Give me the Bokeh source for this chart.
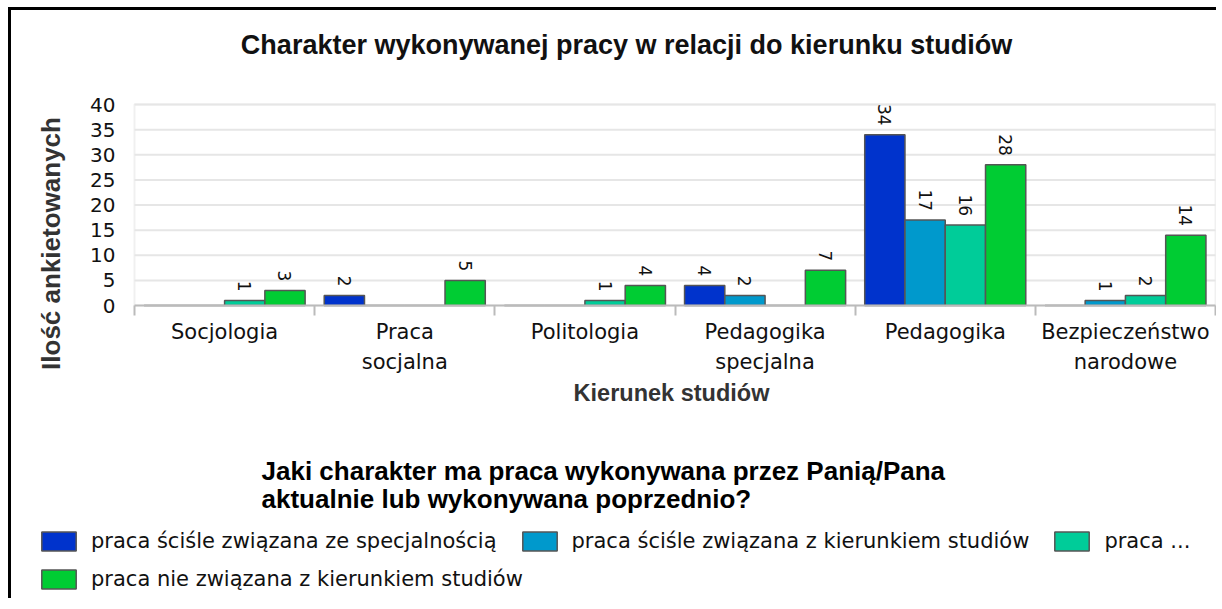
import numpy as np
from bokeh.plotting import figure
from bokeh.models import (ColumnDataSource, FixedTicker, Label, Legend, LegendItem,
                          Range1d, BoxAnnotation)
from bokeh.transform import dodge
from bokeh.core.properties import value
from bokeh.embed import file_html
from bokeh.resources import INLINE

# ---------------- data ----------------
chart_title = "Charakter wykonywanej pracy w relacji do kierunku studiów"
question_lines = ["Jaki charakter ma praca wykonywana przez Panią/Pana",
                  "aktualnie lub wykonywana poprzednio?"]
x_title = "Kierunek studiów"
y_title = "Ilość ankietowanych"
categories = ["Socjologia", "Praca\nsocjalna", "Politologia",
              "Pedagogika\nspecjalna", "Pedagogika", "Bezpieczeństwo\nnarodowe"]
series_names = ["praca ściśle związana ze specjalnością",
                "praca ściśle związana z kierunkiem studiów",
                "praca ...",
                "praca nie związana z kierunkiem studiów"]
spec_values = [0, 2, 0, 4, 34, 0]
kier_values = [0, 0, 0, 2, 17, 1]
other_values = [1, 0, 1, 0, 16, 2]
none_values = [3, 5, 4, 7, 28, 14]
y_ticks = [0, 5, 10, 15, 20, 25, 30, 35, 40]
colors = ["#0033CC", "#0099CC", "#00CC99", "#00CC33"]

series_values = [spec_values, kier_values, other_values, none_values]

# ---------------- layout (pixels) ----------------
W, H = 1208, 591                  # canvas size
PLOT_L, PLOT_R = 123, 1204        # plot area inside the canvas (x)
PLOT_T, PLOT_B = 94, 295          # plot area inside the canvas (y, from top)
TXT = "DejaVu Sans"
BOLD = "Liberation Sans"

n_cat = len(categories)
y_max = max(y_ticks)
ppx = (PLOT_R - PLOT_L) / n_cat
ppy = (PLOT_B - PLOT_T) / y_max
x_range = Range1d(-PLOT_L / ppx, n_cat + (W - PLOT_R) / ppx)
y_range = Range1d(-(H - PLOT_B) / ppy, y_max + PLOT_T / ppy)

p = figure(width=W, height=H, x_range=x_range, y_range=y_range,
           output_backend="svg", toolbar_location=None,
           min_border=0, min_border_left=0, min_border_right=0,
           min_border_top=0, min_border_bottom=0)
p.styles = {"margin-left": "8px", "margin-top": "7px",
            "border-left": "3px solid black", "border-top": "3px solid black"}
p.outline_line_color = None
p.background_fill_color = "white"
p.border_fill_color = "white"
p.xgrid.visible = False
p.ygrid.visible = False

# horizontal grid lines and plot-area frame
grid_src = ColumnDataSource(dict(y=y_ticks[1:], x0=[0] * (len(y_ticks) - 1),
                                 x1=[n_cat] * (len(y_ticks) - 1)))
p.segment(x0="x0", x1="x1", y0="y", y1="y", source=grid_src,
          line_color="#e6e6e6", line_width=2)
p.add_layout(BoxAnnotation(left=0, right=n_cat, bottom=0, top=y_max,
                           fill_alpha=0, line_color="#cccccc", line_width=2,
                           level="underlay"))

centers = [i + 0.5 for i in range(n_cat)]
bounds = list(range(n_cat + 1))

# y axis (inside the canvas, at x = 0)
p.yaxis.fixed_location = 0
p.yaxis.bounds = (0, y_max)
p.yaxis.ticker = FixedTicker(ticks=y_ticks)
p.yaxis.axis_line_color = None
p.yaxis.major_tick_line_color = None
p.yaxis.minor_tick_line_color = None
p.yaxis.major_tick_out = 0
p.yaxis.major_tick_in = 0
p.yaxis.major_label_standoff = 19
p.yaxis.major_label_text_font = TXT
p.yaxis.major_label_text_font_size = "20px"
p.yaxis.major_label_text_color = "#111111"

# x axis (at y = 0)
p.xaxis.fixed_location = 0
p.xaxis.bounds = (0, n_cat)
p.xaxis.ticker = FixedTicker(ticks=centers, minor_ticks=bounds)
p.xaxis.major_label_overrides = {c: lbl for c, lbl in zip(centers, categories)}
p.xaxis.axis_line_color = "#bbbbbb"
p.xaxis.axis_line_width = 2
p.xaxis.major_tick_line_color = None
p.xaxis.major_tick_out = 0
p.xaxis.major_tick_in = 0
p.xaxis.minor_tick_line_color = "#bbbbbb"
p.xaxis.minor_tick_line_width = 2
p.xaxis.minor_tick_in = 0
p.xaxis.minor_tick_out = 10
p.xaxis.major_label_standoff = 4
p.xaxis.major_label_text_font = TXT
p.xaxis.major_label_text_font_size = "21px"
p.xaxis.major_label_text_color = "#111111"
p.xaxis.major_label_text_line_height = 1.25

# bars and value labels
bar_w = 0.2235
items = []
for j, (name, vals, col) in enumerate(zip(series_names, series_values, colors)):
    off = (j - 1.5) * bar_w
    src = ColumnDataSource(dict(x=centers, v=vals))
    r = p.vbar(x=dodge("x", off, range=p.x_range), top="v", width=bar_w, source=src,
               fill_color=col, line_color="#555555", line_width=1.5)
    items.append(LegendItem(label=name, renderers=[r]))
    nz = [(c, v) for c, v in zip(centers, vals) if v != 0]
    lsrc = ColumnDataSource(dict(x=[c for c, _ in nz], v=[v for _, v in nz],
                                 t=[str(v) for _, v in nz]))
    p.text(x=dodge("x", off, range=p.x_range), y="v", text="t", source=lsrc,
           angle=-np.pi / 2, text_align="right", text_baseline="middle",
           y_offset=-9, text_font=value(TXT), text_font_size="17px",
           text_color="#111111")

# texts (screen units from the canvas' bottom-left corner)
p.add_layout(Label(x=615, y=557, x_units="screen", y_units="screen", text=chart_title,
                   text_align="center", text_baseline="alphabetic",
                   text_font=BOLD, text_font_style="bold",
                   text_font_size="27px", text_color="#111111"))
p.add_layout(Label(x=39, y=358, x_units="screen", y_units="screen", text=y_title,
                   angle=np.pi / 2, text_align="center", text_baseline="alphabetic",
                   text_font=BOLD, text_font_style="bold",
                   text_font_size="26px", text_color="#333333"))
p.add_layout(Label(x=660, y=209, x_units="screen", y_units="screen", text=x_title,
                   text_align="center", text_baseline="alphabetic",
                   text_font=BOLD, text_font_style="bold",
                   text_font_size="23.5px", text_color="#333333"))
for k, line in enumerate(question_lines):
    p.add_layout(Label(x=250, y=131 - 28 * k, x_units="screen", y_units="screen",
                       text=line, text_align="left", text_baseline="alphabetic",
                       text_font=BOLD, text_font_style="bold",
                       text_font_size="26px", text_color="#000000"))

legend_style = dict(orientation="horizontal", glyph_width=43, glyph_height=24,
                    label_standoff=11, spacing=21, padding=0, margin=0,
                    border_line_color=None, background_fill_alpha=0,
                    label_text_font=TXT, label_text_font_size="21px",
                    label_text_color="#111111")
p.add_layout(Legend(items=items[:3], location=(26, 48), **legend_style))
p.add_layout(Legend(items=items[3:], location=(26, 10), **legend_style))

open("out.html", "w").write(file_html(p, INLINE))
